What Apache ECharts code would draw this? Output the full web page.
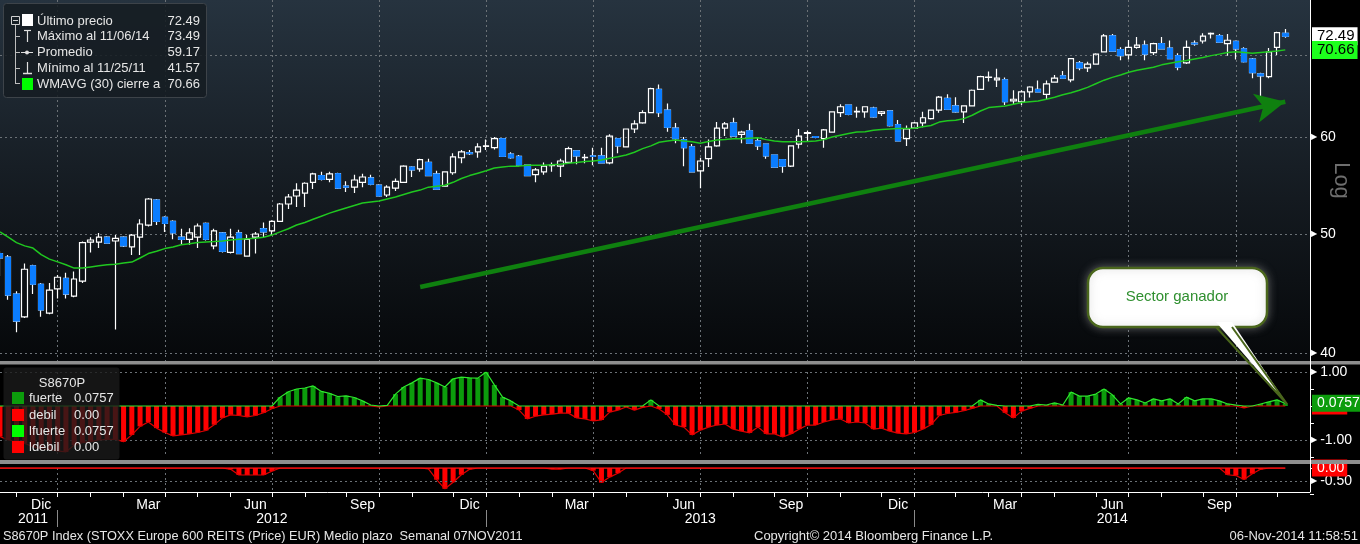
<!DOCTYPE html>
<html>
<head>
<meta charset="utf-8">
<title>S8670P Index</title>
<script src="https://cdn.jsdelivr.net/npm/echarts@6.0.0/dist/echarts.min.js"></script>
<style>
  html, body { margin: 0; padding: 0; background: #000; }
  #chart { width: 1360px; height: 544px; }
</style>
</head>
<body>
<div id="chart"></div>
<script>
var FONT = '"Liberation Sans", Arial, sans-serif';

// semanas (viernes) desde el 11-nov-2011; las 3 ultimas quedan vacias (margen derecho)
var WEEK_MS = 7 * 24 * 3600 * 1000;
var weekDates = [];
for (var w = 0; w < 160; w++) weekDates.push(new Date(Date.UTC(2011, 10, 11) + w * WEEK_MS));
var weekLabels = weekDates.map(function (d) { return d.toISOString().slice(0, 10); });

var monthNames = ['Ene', 'Feb', 'Mar', 'Abr', 'May', 'Jun', 'Jul', 'Ago', 'Sep', 'Oct', 'Nov', 'Dic'];
var yearLabels = {'2011-12-09': '2011', '2012-06-29': '2012', '2013-06-28': '2013', '2014-06-13': '2014'};

var opens = [
  48.2, 47.88, 44.67, 42.8, 47.1, 45.5, 43.1, 45.1, 46.0, 44.5,
  45.77, 49.25, 49.25, 49.7, 49.35, 49.7, 48.8, 49.7, 50.85, 53.3,
  51.6, 51.2, 49.7, 49.5, 49.7, 51.0, 48.9, 50.1, 48.3, 50.1,
  47.97, 49.7, 50.5, 50.3, 51.2, 52.9, 53.7, 54.0, 55.1, 55.8,
  55.4, 56.0, 54.7, 54.6, 55.1, 55.55, 54.8, 53.8, 54.5, 55.1,
  56.7, 56.5, 57.2, 55.97, 54.7, 56.1, 57.7, 58.25, 58.35, 58.95,
  58.8, 59.8, 58.1, 57.85, 56.9, 55.9, 56.2, 56.85, 56.8, 57.2,
  58.45, 57.7, 57.9, 57.9, 57.15, 59.8, 58.9, 60.9, 61.6, 62.8,
  65.6, 63.1, 61.0, 59.7, 58.9, 56.3, 57.6, 59.0, 61.0, 61.6,
  60.3, 60.7, 59.55, 59.2, 58.0, 57.5, 56.8, 59.2, 60.4, 60.05,
  59.8, 60.55, 62.8, 63.7, 62.9, 62.9, 63.35, 62.7, 63.0, 61.4,
  59.8, 61.0, 61.6, 62.1, 63.1, 64.5, 63.6, 62.9, 63.6, 65.6,
  67.1, 66.8, 66.8, 64.2, 64.1, 65.3, 65.6, 65.0, 66.5, 67.3,
  66.8, 68.95, 68.3, 68.8, 70.4, 72.55, 70.7, 70.0, 71.0, 71.3,
  70.3, 71.5, 70.9, 69.9, 68.95, 71.55, 71.85, 72.8, 72.55, 71.5,
  71.8, 70.8, 69.45, 67.55, 67.2, 71.0, 72.9
];
var closes = [
  47.8, 44.58, 42.46, 46.8, 45.5, 43.35, 45.0, 46.1, 44.67, 45.95,
  49.2, 49.44, 49.7, 49.16, 49.6, 48.9, 49.9, 50.95, 53.4, 51.2,
  51.0, 50.1, 49.5, 50.1, 50.76, 49.5, 50.3, 48.4, 49.7, 48.2,
  49.5, 50.0, 50.2, 51.2, 52.9, 53.6, 54.3, 55.0, 55.97, 55.4,
  55.97, 54.5, 54.6, 55.34, 55.65, 54.9, 53.7, 54.6, 55.2, 56.8,
  56.4, 57.5, 55.8, 54.4, 56.2, 57.8, 58.35, 58.15, 58.9, 59.0,
  59.8, 57.85, 57.7, 56.9, 55.8, 56.4, 56.8, 56.9, 57.35, 58.7,
  57.9, 57.75, 57.85, 57.15, 60.1, 59.0, 60.9, 61.5, 62.8, 65.7,
  62.8, 61.1, 59.8, 58.8, 56.2, 57.35, 58.9, 61.0, 61.5, 60.1,
  60.55, 59.3, 59.0, 57.9, 56.7, 56.8, 59.0, 60.1, 60.5, 59.95,
  60.8, 62.9, 63.5, 62.6, 62.95, 63.5, 62.3, 62.9, 61.3, 59.55,
  60.9, 61.6, 62.2, 63.1, 64.65, 63.2, 62.9, 63.6, 65.5, 67.2,
  67.15, 67.0, 64.1, 64.4, 65.3, 65.9, 65.3, 66.3, 67.0, 67.0,
  69.5, 68.3, 68.8, 70.1, 72.55, 70.5, 69.9, 71.0, 71.3, 70.1,
  71.5, 70.8, 69.5, 68.4, 71.0, 71.45, 72.5, 72.9, 71.7, 71.95,
  70.8, 69.1, 67.7, 67.3, 70.4, 73.0, 72.49
];
var lows = [
  46.2, 44.2, 41.57, 42.7, 44.67, 42.8, 43.0, 44.3, 44.3, 44.4,
  45.6, 48.3, 48.7, 49.1, 41.8, 48.8, 48.07, 48.07, 50.7, 50.85,
  50.2, 49.5, 49.0, 49.0, 48.7, 49.4, 48.6, 48.3, 48.2, 48.2,
  47.9, 48.2, 49.7, 49.9, 51.2, 52.4, 52.6, 52.6, 54.4, 55.3,
  55.1, 54.4, 54.1, 54.0, 54.6, 54.8, 53.65, 53.6, 54.2, 55.1,
  55.65, 56.2, 55.8, 54.4, 54.7, 55.9, 57.1, 58.0, 57.7, 58.55,
  58.6, 57.85, 57.6, 56.9, 55.8, 55.1, 55.9, 56.2, 55.65, 57.1,
  57.0, 57.1, 56.9, 57.15, 57.0, 58.2, 58.9, 60.45, 61.5, 62.8,
  62.3, 60.6, 59.3, 56.8, 56.2, 54.5, 56.7, 58.9, 60.1, 60.1,
  59.3, 59.3, 58.55, 57.6, 56.7, 56.1, 56.7, 58.7, 59.5, 59.85,
  58.8, 60.5, 62.3, 62.5, 62.2, 62.2, 62.2, 62.4, 61.2, 59.55,
  59.0, 60.9, 61.1, 62.0, 62.8, 63.2, 62.8, 61.6, 63.6, 65.6,
  66.6, 65.9, 63.7, 63.7, 63.7, 64.6, 65.3, 64.4, 66.5, 67.0,
  66.5, 68.0, 67.8, 68.8, 70.4, 70.5, 69.3, 69.4, 70.8, 69.3,
  70.0, 70.8, 69.5, 68.0, 68.8, 71.2, 71.5, 72.2, 71.7, 69.9,
  69.4, 69.0, 67.0, 64.2, 67.0, 70.0, 72.3
];
var highs = [
  48.4, 48.06, 44.9, 47.3, 47.2, 45.6, 45.6, 46.3, 46.5, 46.6,
  49.3, 49.7, 50.1, 49.8, 49.9, 49.8, 50.0, 51.4, 53.5, 53.4,
  51.7, 51.3, 50.5, 50.55, 51.0, 51.1, 50.5, 50.2, 50.5, 50.4,
  49.9, 50.2, 51.1, 51.3, 53.0, 53.9, 55.0, 55.1, 56.1, 56.2,
  56.2, 56.1, 55.2, 55.9, 56.0, 55.9, 54.9, 54.8, 55.5, 56.9,
  56.8, 57.6, 57.6, 56.3, 56.2, 58.2, 58.55, 58.55, 59.3, 59.7,
  60.0, 59.85, 58.3, 58.0, 56.95, 56.6, 57.2, 57.2, 57.6, 58.9,
  58.5, 58.1, 58.8, 58.8, 60.3, 59.85, 60.9, 61.9, 63.1, 65.8,
  66.2, 63.9, 61.6, 60.0, 59.2, 57.7, 59.7, 61.7, 61.7, 62.2,
  60.7, 61.5, 60.0, 59.25, 58.05, 57.55, 59.0, 60.9, 60.7, 60.1,
  60.9, 62.9, 63.8, 63.75, 63.5, 63.5, 63.5, 63.0, 63.05, 61.95,
  61.3, 61.7, 62.9, 63.1, 64.8, 65.0, 64.65, 63.6, 65.6, 67.3,
  67.85, 68.2, 67.1, 65.5, 65.5, 66.0, 66.7, 66.7, 67.4, 67.9,
  69.6, 69.2, 69.1, 70.2, 72.8, 72.8, 71.0, 72.0, 72.4, 71.9,
  71.6, 72.4, 71.9, 70.2, 71.9, 71.9, 72.9, 73.0, 72.8, 72.8,
  71.9, 71.0, 69.6, 67.7, 70.9, 73.1, 73.49
];
// WMAVG (30) cierre
var wmavg = [
  50.2, 49.7, 49.2, 48.9, 48.7, 48.1, 47.7, 47.45, 47.2, 46.9,
  46.9, 47.0, 47.1, 47.2, 47.25, 47.35, 47.43, 47.8, 48.2, 48.4,
  48.65, 48.8, 49.0, 49.1, 49.2, 49.26, 49.3, 49.35, 49.45, 49.5,
  49.55, 49.6, 49.7, 49.9, 50.2, 50.5, 50.85, 51.1, 51.4, 51.7,
  52.0, 52.25, 52.5, 52.75, 53.0, 53.1, 53.2, 53.4, 53.6, 53.85,
  54.1, 54.3, 54.6, 54.7, 54.8, 55.1, 55.5, 55.8, 56.05, 56.3,
  56.6, 56.7, 56.8, 56.8, 56.9, 56.9, 56.9, 56.95, 57.0, 57.1,
  57.2, 57.3, 57.35, 57.45, 57.65, 57.8, 58.0, 58.3, 58.7, 59.0,
  59.4, 59.55, 59.65, 59.55, 59.45, 59.3, 59.5, 59.65, 59.7, 59.8,
  59.8, 59.85, 59.9, 59.7, 59.55, 59.45, 59.45, 59.45, 59.5, 59.55,
  59.7, 60.0, 60.2, 60.4, 60.55, 60.6, 60.75, 60.85, 60.9, 60.95,
  60.95, 61.0, 61.15, 61.3, 61.7, 61.85, 61.9, 62.1, 62.5, 63.0,
  63.4, 63.5, 63.6, 63.8, 64.0, 64.1, 64.2, 64.4, 64.65, 64.95,
  65.2, 65.5, 65.85, 66.3, 66.75, 67.1, 67.4, 67.75, 68.0, 68.2,
  68.4, 68.7, 68.9, 69.1, 69.25, 69.45, 69.65, 69.9, 70.1, 70.3,
  70.4, 70.3, 70.2, 70.3, 70.4, 70.5, 70.66
];
// panel medio: fuerte (>0) / debil (<0)
var osc = [
  -0.9, -1.0, -1.05, -1.1, -1.2, -1.25, -1.28, -1.32, -1.35, -1.15,
  -1.08, -1.05, -1.0, -0.98, -0.98, -1.05, -0.85, -0.6, -0.47, -0.65,
  -0.78, -0.88, -0.85, -0.82, -0.78, -0.72, -0.55, -0.35, -0.26, -0.28,
  -0.32, -0.28, -0.2, -0.08, 0.26, 0.42, 0.5, 0.53, 0.59, 0.43,
  0.37, 0.28, 0.3, 0.25, 0.15, 0.03, -0.03, 0.02, 0.35, 0.56,
  0.68, 0.82, 0.78, 0.68, 0.56, 0.8, 0.85, 0.83, 0.82, 1.0,
  0.62, 0.26, 0.15, -0.12, -0.38, -0.3, -0.26, -0.24, -0.21, -0.21,
  -0.35, -0.38, -0.44, -0.41, -0.18, -0.12, -0.03, -0.12, -0.04, 0.18,
  -0.09, -0.26, -0.56, -0.62, -0.85, -0.71, -0.62, -0.56, -0.53, -0.68,
  -0.74, -0.79, -0.62, -0.82, -0.82, -0.91, -0.82, -0.68, -0.56, -0.56,
  -0.47, -0.41, -0.38, -0.5, -0.47, -0.5, -0.68, -0.65, -0.74, -0.8,
  -0.82, -0.78, -0.68, -0.55, -0.28, -0.22, -0.19, -0.14, -0.07, 0.18,
  0.06, 0.02, -0.2, -0.35, -0.15, -0.07, 0.05, 0.03, 0.09, 0.03,
  0.41, 0.29, 0.29, 0.35, 0.5, 0.33, 0.06, 0.24, 0.18, 0.09,
  0.21, 0.15, 0.21, 0.06, 0.26, 0.15, 0.21, 0.21, 0.15, 0.06,
  0.03, -0.06, 0.0, 0.06, 0.12, 0.18, 0.0757
];
// panel inferior
var oscLower = [
  0, 0, 0, 0, 0, 0, 0, 0, 0, 0,
  0, 0, 0, 0, 0, 0, 0, 0, 0, 0,
  0, 0, 0, 0, 0, 0, 0, 0, -0.05, -0.27,
  -0.27, -0.27, -0.27, -0.12, 0, 0, 0, 0, 0, 0,
  0, 0, 0, 0, 0, 0, 0, 0, 0, 0,
  0, 0, -0.03, -0.45, -0.8, -0.55, -0.26, -0.05, 0, 0,
  0, 0, 0, 0, 0, 0, 0, -0.04, -0.04, 0,
  0, 0, -0.1, -0.56, -0.35, -0.2, 0, 0, 0, 0,
  0, 0, 0, 0, 0, 0, 0, 0, 0, 0,
  0, 0, 0, 0, 0, 0, 0, 0, 0, 0,
  0, 0, 0, 0, 0, 0, 0, 0, 0, 0,
  0, 0, 0, 0, 0, 0, 0, 0, 0, 0,
  0, 0, 0, 0, 0, 0, 0, 0, 0, 0,
  0, 0, 0, 0, 0, 0, 0, 0, 0, 0,
  0, 0, 0, 0, 0, 0, 0, 0, 0, -0.26,
  -0.29, -0.44, -0.22, -0.05, 0, 0, 0
];
var priceTicks = [40, 50, 60, 70];
var lastPrice = 72.49, lastWmavg = 70.66, lastFuerte = 0.0757, lastDebil = 0.00;

function monthEnd(i) {
  var n = weekDates[i + 1];
  return !!n && n.getUTCMonth() !== weekDates[i].getUTCMonth();
}
function quarterEnd(i) { return monthEnd(i) && weekDates[i].getUTCMonth() % 3 === 2; }
function yearEnd(i) { return monthEnd(i) && weekDates[i].getUTCMonth() === 11; }
function midQuarterMonth(i) {
  var d = weekDates[i];
  return d.getUTCMonth() % 3 === 2 && d.getUTCDate() >= 12 && d.getUTCDate() <= 18;
}

var candleData = opens.map(function (o, i) { return [o, closes[i], lows[i], highs[i]]; });
// cuerpos azules encima (las mechas quedan blancas)
var downBodies = opens.map(function (o, i) {
  var c = closes[i];
  return c < o ? [o, c, c, o] : ['-', '-', '-', '-'];
});
var fuerte = osc.map(function (v) { return Math.max(v, 0); });
var debil = osc.map(function (v) { return Math.min(v, 0); });
var lowerZero = oscLower.map(function (v) { return Math.max(v, 0); });

var GRID_LINE = {color: '#6b7176', type: [2, 3], width: 1};
var HIDDEN_LINE = {color: 'rgba(0,0,0,0)', width: 1, type: 'solid'};
var TICK_RICH = {
  t: {fontSize: 8, color: '#fff', fontFamily: 'DejaVu Sans', padding: [0, 3, 0, 0]},
  v: {fontSize: 14, color: '#fff', fontFamily: FONT}
};
function tag(text, bg, fg, size) {
  return {
    show: true, position: 'end', distance: 2, formatter: text,
    color: fg, backgroundColor: bg, padding: [2, 3, 1, 5],
    fontSize: size || 15, fontFamily: FONT
  };
}

function weekAxis(gridIndex, extra) {
  var axis = {
    type: 'category', gridIndex: gridIndex, data: weekLabels, boundaryGap: false,
    position: 'bottom',
    axisLine: {show: false, onZero: false}, axisTick: {show: false}, axisLabel: {show: false},
    splitLine: {show: false}
  };
  for (var k in (extra || {})) axis[k] = extra[k];
  return axis;
}
var quarterSplit = {show: true, interval: function (i) { return quarterEnd(i); }, lineStyle: GRID_LINE};

// z alto para que los elementos dibujados queden encima de las series
function onTop(els, z) {
  return els.map(function (el) { el.z = z; return el; });
}
var LEG_FONT = '13px ' + FONT;
function legText(x, y, text, align) {
  return {type: 'text', x: x, y: y, style: {text: text, fill: '#e6e6e6', font: LEG_FONT, textAlign: align || 'left', textVerticalAlign: 'middle'}};
}
function hLine(x1, x2, y, color, width) {
  return {type: 'line', shape: {x1: x1, y1: y, x2: x2, y2: y}, style: {stroke: color, lineWidth: width || 1}};
}
function vLine(x, y1, y2, color, width) {
  return {type: 'line', shape: {x1: x, y1: y1, x2: x, y2: y2}, style: {stroke: color, lineWidth: width || 1}};
}

var chart = echarts.init(document.getElementById('chart'));

var topLegend = [
  {type: 'rect', shape: {x: 3.5, y: 3.5, width: 203, height: 94, r: 3}, style: {fill: 'rgba(22,28,34,0.88)', stroke: '#3d4349', lineWidth: 1}},
  {type: 'rect', shape: {x: 11.5, y: 16.5, width: 8, height: 8}, style: {fill: 'none', stroke: '#d0d0d0', lineWidth: 1}},
  hLine(13, 18, 20.5, '#d0d0d0'),
  vLine(15.5, 25, 84, '#bdbdbd'),
  hLine(15.5, 20, 36.5, '#bdbdbd'), hLine(15.5, 20, 52.5, '#bdbdbd'),
  hLine(15.5, 20, 68.5, '#bdbdbd'), hLine(15.5, 20, 83.5, '#bdbdbd'),
  {type: 'rect', shape: {x: 22, y: 14, width: 11, height: 12}, style: {fill: '#ffffff'}},
  vLine(27.5, 30, 42, '#e0e0e0', 1.2), hLine(24, 31, 30.5, '#e0e0e0', 1.2),
  hLine(21, 33, 52.5, '#e0e0e0'),
  {type: 'circle', shape: {cx: 27, cy: 52.5, r: 2}, style: {fill: '#e0e0e0'}},
  vLine(27.5, 62, 74, '#e0e0e0', 1.2), hLine(23, 32, 73.5, '#e0e0e0', 1.5),
  {type: 'rect', shape: {x: 22, y: 78, width: 11, height: 12}, style: {fill: '#00ff00'}},
  legText(37, 21, 'Último precio'), legText(37, 36, 'Máximo al 11/06/14'),
  legText(37, 52, 'Promedio'), legText(37, 68, 'Mínimo al 11/25/11'),
  legText(37, 84, 'WMAVG (30) cierre a'),
  legText(200, 21, '72.49', 'right'), legText(200, 36, '73.49', 'right'),
  legText(200, 52, '59.17', 'right'), legText(200, 68, '41.57', 'right'),
  legText(200, 84, '70.66', 'right')
];

var lowerLegend = [
  {type: 'rect', shape: {x: 3.5, y: 367.5, width: 116, height: 92, r: 3}, style: {fill: 'rgba(26,26,26,0.8)'}},
  legText(62, 383, 'S8670P', 'center'),
  {type: 'rect', shape: {x: 12, y: 392, width: 12, height: 12}, style: {fill: '#0c9c0c'}},
  {type: 'rect', shape: {x: 12, y: 409, width: 12, height: 12}, style: {fill: '#ff0000'}},
  {type: 'rect', shape: {x: 12, y: 425, width: 12, height: 12}, style: {fill: '#00ff00'}},
  {type: 'rect', shape: {x: 12, y: 441, width: 12, height: 12}, style: {fill: '#ff0000'}},
  legText(29, 398, 'fuerte'), legText(29, 415, 'debil'),
  legText(29, 431, 'lfuerte'), legText(29, 447, 'ldebil'),
  legText(74, 398, '0.0757'), legText(74, 415, '0.00'),
  legText(74, 431, '0.0757'), legText(74, 447, '0.00')
];

var callout = [
  {type: 'rect', shape: {x: 1088, y: 268, width: 179, height: 59, r: 15},
    style: {fill: '#ffffff', stroke: '#4a661c', lineWidth: 2.5, shadowBlur: 8, shadowColor: 'rgba(160,160,160,0.5)'}},
  {type: 'polygon', shape: {points: [[1216, 322], [1232, 322], [1287, 404]]}, style: {fill: '#ffffff'}},
  {type: 'polyline', shape: {points: [[1216, 327], [1287, 404], [1232, 327]]}, style: {stroke: '#4a661c', lineWidth: 2, fill: 'none'}},
  {type: 'text', x: 1177, y: 297, style: {text: 'Sector ganador', fill: '#2f8f2f', font: '15px ' + FONT, textAlign: 'center', textVerticalAlign: 'middle'}}
];

var frame = [
  {type: 'rect', shape: {x: 0, y: 361, width: 1360, height: 3.5}, style: {fill: '#8e8e8e'}},
  {type: 'rect', shape: {x: 0, y: 460, width: 1360, height: 4}, style: {fill: '#8e8e8e'}},
  vLine(1310.5, 0, 492, '#ffffff'),
  {type: 'text', x: 3, y: 536, style: {text: 'S8670P Index (STOXX Europe 600 REITS (Price) EUR) Medio plazo  Semanal 07NOV2011', fill: '#e6e6e6', font: '12.75px ' + FONT, textVerticalAlign: 'middle'}},
  {type: 'text', x: 754, y: 536, style: {text: 'Copyright\u00A9 2014 Bloomberg Finance L.P.', fill: '#e6e6e6', font: '13px ' + FONT, textVerticalAlign: 'middle'}},
  {type: 'text', x: 1358, y: 536, style: {text: '06-Nov-2014 11:58:51', fill: '#e6e6e6', font: '13px ' + FONT, textAlign: 'right', textVerticalAlign: 'middle'}}
];

var option = {
  backgroundColor: '#000',
  animation: false,
  textStyle: {fontFamily: FONT},
  grid: [
    {left: 0, top: 0, width: 1310, height: 361, show: true, borderWidth: 0,
      backgroundColor: new echarts.graphic.LinearGradient(0, 0, 0, 1, [
        {offset: 0, color: '#26333f'}, {offset: 0.55, color: '#141a20'}, {offset: 1, color: '#06080a'}
      ])},
    {left: 0, top: 372, width: 1310, height: 85},
    {left: 0, top: 468, width: 1310, height: 26}
  ],
  xAxis: [
    weekAxis(0, {splitLine: quarterSplit}),
    weekAxis(1, {splitLine: quarterSplit}),
    // eje de meses (linea + etiquetas)
    weekAxis(2, {
      offset: -2, splitLine: quarterSplit,
      axisLine: {show: true, onZero: false, lineStyle: {color: '#fff', width: 1}},
      axisLabel: {
        show: true, interval: function (i) { return midQuarterMonth(i); },
        formatter: function (v) { return monthNames[new Date(v + 'T00:00:00Z').getUTCMonth()]; },
        color: '#fff', fontSize: 14, margin: 6, fontFamily: FONT
      }
    }),
    // fila de años con separadores
    weekAxis(2, {
      offset: 16,
      axisTick: {show: true, inside: false, interval: function (i) { return yearEnd(i); }, length: 17, lineStyle: {color: '#8a8a8a'}},
      axisLabel: {
        show: true, interval: function (i, v) { return !!yearLabels[v]; },
        formatter: function (v) { return yearLabels[v] || ''; },
        color: '#fff', fontSize: 14, margin: 2, fontFamily: FONT
      }
    }),
    // marcas de fin de mes bajo el eje
    weekAxis(2, {
      offset: -2,
      axisTick: {show: true, inside: false, interval: function (i) { return monthEnd(i); }, length: 5, lineStyle: {color: '#ffffff'}}
    })
  ],
  yAxis: [
    {
      type: 'log', logBase: 10, gridIndex: 0, position: 'right', min: 39.39, max: 77.6,
      axisLine: {show: false}, axisTick: {show: false}, axisLabel: {show: false}, splitLine: {show: false},
      name: 'Log', nameLocation: 'middle', nameRotate: -90, nameGap: 20,
      nameTextStyle: {color: '#6e6e6e', fontSize: 22, fontFamily: FONT}
    },
    {
      type: 'value', gridIndex: 1, position: 'right', min: -1.5, max: 1, interval: 0.5,
      axisLine: {show: false, onZero: false}, splitLine: {show: false},
      axisTick: {show: true, length: 4, lineStyle: {color: '#fff'}},
      axisLabel: {
        margin: 1, rich: TICK_RICH,
        formatter: function (v) {
          if (Math.abs(v - 1) < 1e-9) return '{t|\u25B6}{v|1.00}';
          if (Math.abs(v + 1) < 1e-9) return '{t|\u25B6}{v|-1.00}';
          return '';
        }
      }
    },
    {
      type: 'value', gridIndex: 2, position: 'right', min: -1, max: 0, interval: 0.5,
      axisLine: {show: false, onZero: false}, splitLine: {show: false},
      axisTick: {show: true, length: 4, lineStyle: {color: '#fff'}},
      axisLabel: {
        margin: 1, rich: TICK_RICH,
        formatter: function (v) { return Math.abs(v + 0.5) < 1e-9 ? '{t|\u25B6}{v|-0.50}' : ''; }
      }
    }
  ],
  series: [
    {
      name: 'Último precio', type: 'candlestick', xAxisIndex: 0, yAxisIndex: 0,
      data: candleData, barWidth: 6,
      itemStyle: {color: 'rgba(0,0,0,0)', color0: 'rgba(0,0,0,0)', borderColor: '#ffffff', borderColor0: '#ffffff', borderWidth: 1.2},
      markLine: {
        silent: true, animation: false, z: 1, symbol: ['none', 'none'],
        lineStyle: GRID_LINE,
        label: {position: 'end', distance: 1, rich: TICK_RICH},
        data: priceTicks.map(function (v) {
          return {yAxis: v, label: {show: v !== 70, formatter: '{t|\u25B6}{v|' + v + '}'}};
        })
      }
    },
    {
      name: 'bajista', type: 'candlestick', xAxisIndex: 0, yAxisIndex: 0,
      data: downBodies, barWidth: 6,
      itemStyle: {color: '#0b7dff', color0: '#0b7dff', borderColor: '#0b7dff', borderColor0: '#0b7dff', borderWidth: 1},
      markLine: {
        silent: true, animation: false, symbol: ['none', 'none'],
        data: [
          {yAxis: lastPrice, lineStyle: HIDDEN_LINE, label: tag(lastPrice.toFixed(2), '#ffffff', '#000')},
          [
            {coord: [51, 45.26], symbol: 'none', label: {show: false},
              lineStyle: {color: '#0f800f', width: 4.5, type: 'solid'}},
            {coord: [156, 64.1], symbol: 'arrow', symbolSize: [22, 30], label: {show: false}}
          ]
        ]
      }
    },
    {
      name: 'WMAVG (30) cierre a', type: 'line', xAxisIndex: 0, yAxisIndex: 0,
      data: wmavg, symbol: 'none', lineStyle: {color: '#20c820', width: 1.5},
      markLine: {
        silent: true, animation: false, symbol: ['none', 'none'],
        data: [{yAxis: lastWmavg, lineStyle: HIDDEN_LINE, label: tag(lastWmavg.toFixed(2), '#1dff1d', '#000')}]
      }
    },
    {
      name: 'fuerte', type: 'bar', xAxisIndex: 1, yAxisIndex: 1,
      data: fuerte, barWidth: 5, itemStyle: {color: '#0c9c0c'}
    },
    {
      name: 'debil', type: 'bar', xAxisIndex: 1, yAxisIndex: 1,
      data: debil, barWidth: 5, barGap: '-100%', itemStyle: {color: '#ff0000'}
    },
    {
      name: 'ldebil', type: 'line', xAxisIndex: 1, yAxisIndex: 1,
      data: debil, symbol: 'none', lineStyle: {color: '#e00000', width: 1.2},
      markLine: {
        silent: true, animation: false, z: 1, symbol: ['none', 'none'],
        lineStyle: GRID_LINE,
        data: [
          {yAxis: 1, label: {show: false}},
          {yAxis: -1, label: {show: false}},
          {yAxis: lastDebil, lineStyle: HIDDEN_LINE, label: tag(lastDebil.toFixed(2), '#ff0000', '#fff', 14)}
        ]
      }
    },
    {
      name: 'lfuerte', type: 'line', xAxisIndex: 1, yAxisIndex: 1,
      data: fuerte, symbol: 'none', lineStyle: {color: '#2ee82e', width: 1.2},
      markLine: {
        silent: true, animation: false, symbol: ['none', 'none'],
        data: [{yAxis: lastFuerte, lineStyle: HIDDEN_LINE, label: tag(String(lastFuerte), '#0c9c0c', '#fff', 14)}]
      }
    },
    {
      name: 'inferior', type: 'bar', xAxisIndex: 2, yAxisIndex: 2,
      data: oscLower, barWidth: 5, itemStyle: {color: '#ff0000'}
    },
    {
      name: 'linferior', type: 'line', xAxisIndex: 2, yAxisIndex: 2,
      data: oscLower, symbol: 'none', lineStyle: {color: '#e00000', width: 1.2}
    },
    {
      name: 'lcero', type: 'line', xAxisIndex: 2, yAxisIndex: 2,
      data: lowerZero, symbol: 'none', lineStyle: {color: '#ff1010', width: 1.4},
      markLine: {
        silent: true, animation: false, symbol: ['none', 'none'],
        data: [
          {yAxis: -0.5, lineStyle: GRID_LINE, label: {show: false}},
          {yAxis: 0, lineStyle: HIDDEN_LINE, label: tag('0.00', '#ff0000', '#fff', 14)}
        ]
      }
    }
  ],
  graphic: [].concat(onTop(topLegend, 100), onTop(lowerLegend, 100), onTop(callout, 110), onTop(frame, 105))
};

chart.setOption(option);
</script>
</body>
</html>
